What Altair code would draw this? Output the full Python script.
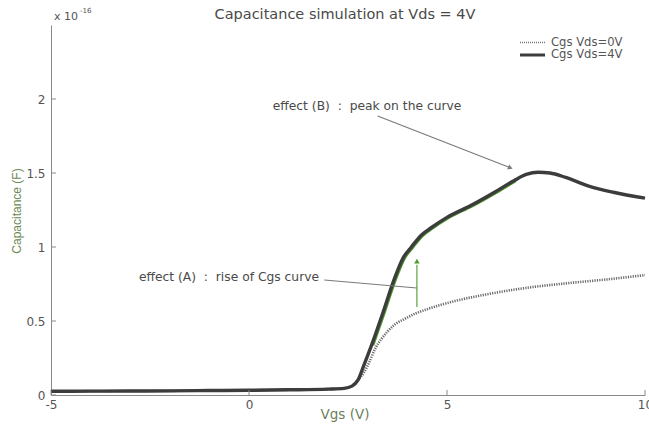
import altair as alt
import pandas as pd

# Gate-source capacitance (units of 1e-16 F) versus gate voltage
vgs_4v = [-5, -4, -3, -2, -1, 0, 1, 2, 2.4, 2.6, 2.75, 2.9, 3.1, 3.4, 3.65, 3.9,
          4.1, 4.35, 4.6, 5.0, 5.6, 6.2, 6.7, 7.0, 7.3, 7.6, 8.0, 8.6, 9.2, 10]
cgs_4v = [0.025, 0.026, 0.027, 0.028, 0.03, 0.032, 0.035, 0.04, 0.045, 0.06, 0.1,
          0.2, 0.34, 0.57, 0.77, 0.93, 1.0, 1.08, 1.13, 1.2, 1.28, 1.37, 1.45,
          1.49, 1.505, 1.5, 1.47, 1.41, 1.37, 1.33]

vgs_0v = [-5, -4, -3, -2, -1, 0, 1, 2, 2.4, 2.6, 2.75, 2.9, 3.05, 3.2, 3.35, 3.5,
          3.7, 3.9, 4.2, 4.5, 5.2, 6.0, 6.9, 8.1, 9.0, 10]
cgs_0v = [0.025, 0.026, 0.027, 0.028, 0.03, 0.032, 0.035, 0.04, 0.045, 0.06, 0.1,
          0.15, 0.23, 0.32, 0.38, 0.43, 0.48, 0.51, 0.55, 0.58, 0.635, 0.68,
          0.72, 0.757, 0.78, 0.81]

x_ticks = [-5, 0, 5, 10]
y_ticks = [0, 0.5, 1, 1.5, 2]

legend_labels = ["Cgs Vds=0V", "Cgs Vds=4V"]
annotations = ["effect (B)\u00a0\u00a0:\u00a0\u00a0peak on the curve",
               "effect (A)\u00a0\u00a0:\u00a0\u00a0rise of Cgs curve"]

W, H = 594, 370
FONT = "DejaVu Sans"
FONT_NARROW = "Liberation Sans"
TXT = "#555555"
AXIS = "#8a8a8a"

df4 = pd.DataFrame({"vgs": vgs_4v, "cgs": cgs_4v})
df0 = pd.DataFrame({"vgs": vgs_0v, "cgs": cgs_0v})
df_rise = df4[(df4.vgs >= 3.1) & (df4.vgs <= 6.7)]

xs = alt.Scale(domain=[-5, 10], nice=False, zero=False)
ys = alt.Scale(domain=[0, 2.5], nice=False, zero=False)

X = alt.X("vgs:Q", scale=xs,
          axis=alt.Axis(values=x_ticks, ticks=False, grid=False, title=None,
                        labelFont=FONT, labelFontSize=12, labelColor=TXT,
                        domainColor=AXIS, labelPadding=4, labelFlush=False,
                        labelExpr="'' + datum.value"))
Y = alt.Y("cgs:Q", scale=ys,
          axis=alt.Axis(values=y_ticks, ticks=False, grid=False, title=None,
                        labelFont=FONT, labelFontSize=12, labelColor=TXT,
                        domainColor=AXIS, labelPadding=6,
                        labelExpr="'' + datum.value"))

curve0 = alt.Chart(df0).mark_line(
    color="#6a6a6a", strokeWidth=2.6, strokeDash=[1.2, 1.2], interpolate="monotone"
).encode(x=X, y=Y)

rise_edge = alt.Chart(df_rise).mark_line(
    color="#4f9a2e", strokeWidth=2, interpolate="monotone", xOffset=1.6, yOffset=0.8
).encode(x=alt.X("vgs:Q", scale=xs), y=alt.Y("cgs:Q", scale=ys))

curve4 = alt.Chart(df4).mark_line(
    color="#3c3c3c", strokeWidth=3.4, interpolate="monotone"
).encode(x=alt.X("vgs:Q", scale=xs), y=alt.Y("cgs:Q", scale=ys))

# inward tick marks
xt = alt.Chart(pd.DataFrame({"v": x_ticks})).mark_rule(color=AXIS).encode(
    x=alt.X("v:Q", scale=xs), y=alt.value(H), y2=alt.value(H - 5))
yt = alt.Chart(pd.DataFrame({"v": y_ticks})).mark_rule(color=AXIS).encode(
    y=alt.Y("v:Q", scale=ys), x=alt.value(0), x2=alt.value(5))

# annotations
ann_text = pd.DataFrame({
    "vgs": [0.6, -2.78],
    "cgs": [1.95, 0.80],
    "label": annotations,
})
ann = alt.Chart(ann_text).mark_text(
    align="left", baseline="middle", font=FONT, fontSize=12.3, color="#4a4a4a"
).encode(x=alt.X("vgs:Q", scale=xs), y=alt.Y("cgs:Q", scale=ys), text="label:N")

seg = pd.DataFrame({
    "x1": [3.25, 1.9, 4.24],
    "y1": [1.885, 0.777, 0.595],
    "x2": [6.55, 4.24, 4.24],
    "y2": [1.54, 0.723, 0.88],
    "c": ["gray", "gray", "green"],
})
seg_color = alt.Color("c:N", scale=alt.Scale(domain=["gray", "green"],
                                              range=["#7a7a7a", "#4f9a2e"]), legend=None)
arrows = alt.Chart(seg).mark_rule(strokeWidth=1.1).encode(
    x=alt.X("x1:Q", scale=xs), y=alt.Y("y1:Q", scale=ys),
    x2="x2:Q", y2="y2:Q", color=seg_color)

heads = pd.DataFrame({"x": [6.6, 4.24], "y": [1.535, 0.905], "a": [111.5, 0],
                      "c": ["gray", "green"]})
arrowheads = alt.Chart(heads).mark_point(
    shape="triangle-up", filled=True, size=30, opacity=1
).encode(x=alt.X("x:Q", scale=xs), y=alt.Y("y:Q", scale=ys),
         angle=alt.Angle("a:Q", scale=None), color=seg_color)


# titles, exponent and legend text at fixed pixel positions
def label(text, x, y, size, color=TXT, angle=0, align="center", font=FONT):
    return alt.Chart(pd.DataFrame({"t": [text]})).mark_text(
        font=font, fontSize=size, color=color, angle=angle, align=align,
        baseline="middle"
    ).encode(text="t:N", x=alt.value(x), y=alt.value(y))


title = label("Capacitance simulation at Vds = 4V", 294, -10, 14.5, color="#4a4a4a")
xlab = label("Vgs (V)", 294, 390, 13.5, color="#6b7f5a")
ylab = label("Capacitance (F)", -34, 186, 12, color="#6b8a55", angle=270,
             font=FONT_NARROW)
expo = label("x 10", 3, -8, 11, align="left")
expo_sup = label("-16", 29, -14, 7, align="left")


def legend_line(y, width, dash, color):
    return alt.Chart(pd.DataFrame({"k": [0]})).mark_rule(
        strokeWidth=width, strokeDash=dash, color=color
    ).encode(x=alt.value(469), x2=alt.value(494), y=alt.value(y))


leg0 = legend_line(17.5, 1.6, [1, 1], "#777777")
leg1 = legend_line(30, 3.2, [1, 0], "#3c3c3c")
leg0_t = label(legend_labels[0], 500, 17.5, 11.6, align="left")
leg1_t = label(legend_labels[1], 500, 30, 11.6, align="left")

chart = alt.layer(
    curve0, rise_edge, curve4, xt, yt, arrows, arrowheads, ann,
    title, xlab, ylab, expo, expo_sup, leg0, leg1, leg0_t, leg1_t
).resolve_scale(color="independent").properties(
    width=W, height=H,
    autosize=alt.AutoSizeParams(type="none"),
    padding={"left": 51, "top": 25, "right": 4, "bottom": 34},
    background="white",
).configure_view(strokeWidth=0)

chart.save("out.html", embed_options={"renderer": "svg", "actions": False})
